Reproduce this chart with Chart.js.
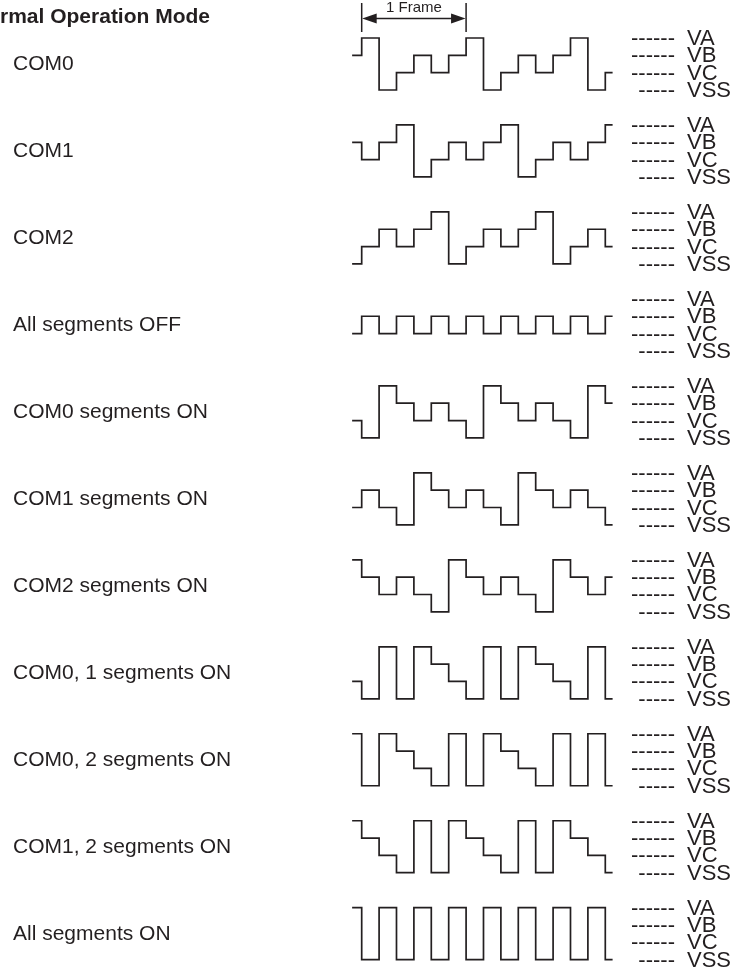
<!DOCTYPE html>
<html>
<head>
<meta charset="utf-8">
<title>Normal Operation Mode</title>
<script src="https://cdn.jsdelivr.net/npm/chart.js@4.4.1/dist/chart.umd.min.js"></script>
<style>
  html, body { margin: 0; padding: 0; background: #fff; overflow: hidden; }
  #wrap { position: relative; width: 734px; height: 970px; }
  #wave { position: absolute; left: 0; top: 0; }
  .lbl {
    position: absolute;
    white-space: nowrap;
    color: #231f20;
    font-family: "Liberation Sans", Arial, sans-serif;
    line-height: 1;
    transform: translateY(-50%);
  }
  .title { font-weight: bold; font-size: 21px; transform: none; }
  .row-name { font-size: 21px; }
  .lvl { font-size: 22px; }
  .dash { font-size: 22px; text-align: right; }
  .frame { font-size: 15px; transform: translateX(-50%); }
</style>
</head>
<body>
<div id="wrap">
  <canvas id="wave" width="734" height="970"></canvas>
</div>
<script>
const INK = "#231f20";

// time axis, in COM time slots (edge 0 = start of the frame)
const TIME = [-0.55, 0, 1, 2, 3, 4, 5, 6, 7, 8, 9, 10, 11, 12, 13, 14, 14.42];
const FRAME = [0, 6];

// voltage levels, bottom to top
const LEVELS = ["VSS", "VC", "VB", "VA"];
const LEVEL_DASH = ["-----", "------", "------", "------"];

// one value per step: lead-in, 14 slots, tail (0 = VSS ... 3 = VA)
const COM0 = [2, 3, 0, 1, 2, 1, 2, 3, 0, 1, 2, 1, 2, 3, 0, 1];
const COM1 = [2, 1, 2, 3, 0, 1, 2, 1, 2, 3, 0, 1, 2, 1, 2, 3];
const COM2 = [0, 1, 2, 1, 2, 3, 0, 1, 2, 1, 2, 3, 0, 1, 2, 1];
const SEG_ALL_OFF = [1, 2, 1, 2, 1, 2, 1, 2, 1, 2, 1, 2, 1, 2, 1, 2];
const SEG_COM0_ON = [1, 0, 3, 2, 1, 2, 1, 0, 3, 2, 1, 2, 1, 0, 3, 2];
const SEG_COM1_ON = [1, 2, 1, 0, 3, 2, 1, 2, 1, 0, 3, 2, 1, 2, 1, 0];
const SEG_COM2_ON = [3, 2, 1, 2, 1, 0, 3, 2, 1, 2, 1, 0, 3, 2, 1, 2];
const SEG_COM01_ON = [1, 0, 3, 0, 3, 2, 1, 0, 3, 0, 3, 2, 1, 0, 3, 0];
const SEG_COM02_ON = [3, 0, 3, 2, 1, 0, 3, 0, 3, 2, 1, 0, 3, 0, 3, 0];
const SEG_COM12_ON = [3, 2, 1, 0, 3, 0, 3, 2, 1, 0, 3, 0, 3, 2, 1, 0];
const SEG_ALL_ON = [3, 0, 3, 0, 3, 0, 3, 0, 3, 0, 3, 0, 3, 0, 3, 0];

const ROW_NAMES = [
  "COM0",
  "COM1",
  "COM2",
  "All segments OFF",
  "COM0 segments ON",
  "COM1 segments ON",
  "COM2 segments ON",
  "COM0, 1 segments ON",
  "COM0, 2 segments ON",
  "COM1, 2 segments ON",
  "All segments ON",
];
const ROWS = [
  COM0, COM1, COM2, SEG_ALL_OFF, SEG_COM0_ON, SEG_COM1_ON,
  SEG_COM2_ON, SEG_COM01_ON, SEG_COM02_ON, SEG_COM12_ON, SEG_ALL_ON,
];

// vertical distance between rows, in level units
const ROW_PITCH = 5.0185;

function toPoints(levels, row) {
  const vals = levels.concat(levels[levels.length - 1]);
  return vals.map((v, i) => ({ x: TIME[i], y: v - row * ROW_PITCH }));
}

const frameMarker = {
  id: "frameMarker",
  afterDraw(chart) {
    const { ctx, scales } = chart;
    const x0 = scales.x.getPixelForValue(FRAME[0]);
    const x1 = scales.x.getPixelForValue(FRAME[1]);
    const ay = 18.5;
    ctx.save();
    ctx.strokeStyle = INK;
    ctx.fillStyle = INK;
    ctx.lineWidth = 1.5;
    ctx.beginPath();
    ctx.moveTo(x0, 3);
    ctx.lineTo(x0, 32);
    ctx.moveTo(x1, 3);
    ctx.lineTo(x1, 32);
    ctx.moveTo(x0 + 10, ay);
    ctx.lineTo(x1 - 10, ay);
    ctx.stroke();
    ctx.beginPath();
    ctx.moveTo(x0 + 0.5, ay);
    ctx.lineTo(x0 + 15, ay - 5);
    ctx.lineTo(x0 + 15, ay + 5);
    ctx.closePath();
    ctx.fill();
    ctx.beginPath();
    ctx.moveTo(x1 - 0.5, ay);
    ctx.lineTo(x1 - 15, ay - 5);
    ctx.lineTo(x1 - 15, ay + 5);
    ctx.closePath();
    ctx.fill();
    ctx.restore();
  },
};

const chart = new Chart(document.getElementById("wave"), {
  type: "line",
  data: {
    datasets: ROWS.map((r, i) => ({
      label: ROW_NAMES[i],
      data: toPoints(r, i),
      stepped: "before",
      borderColor: INK,
      borderWidth: 1.7,
      pointRadius: 0,
      fill: false,
      tension: 0,
    })),
  },
  options: {
    responsive: false,
    devicePixelRatio: 1,
    animation: false,
    events: [],
    layout: { padding: 0 },
    plugins: { legend: { display: false }, tooltip: { enabled: false } },
    scales: {
      x: { type: "linear", display: false, min: -20.787, max: 21.397 },
      y: { type: "linear", display: false, min: -50.78, max: 5.193 },
    },
  },
  plugins: [frameMarker],
});

function addLabel(cls, text, left, top, extra) {
  const d = document.createElement("div");
  d.className = "lbl " + cls;
  d.textContent = text;
  d.style.left = left + "px";
  d.style.top = top + "px";
  if (extra) Object.assign(d.style, extra);
  document.getElementById("wrap").appendChild(d);
  return d;
}

function drawLabels() {
  const ys = chart.scales.y;
  const xs = chart.scales.x;

  addLabel("title", "Normal Operation Mode", -28, 5);
  const fx = (xs.getPixelForValue(FRAME[0]) + xs.getPixelForValue(FRAME[1])) / 2;
  addLabel("frame", "1 Frame", fx, -1);

  ROW_NAMES.forEach((name, i) => {
    addLabel("row-name", name, 13, ys.getPixelForValue(1.5 - i * ROW_PITCH) - 1.5);
    LEVELS.forEach((lv, k) => {
      const y = ys.getPixelForValue(k - i * ROW_PITCH);
      addLabel("dash", LEVEL_DASH[k], 0, y, { left: "auto", right: "59px" });
      addLabel("lvl", lv, 687, y);
    });
  });
}

drawLabels();
</script>
</body>
</html>
